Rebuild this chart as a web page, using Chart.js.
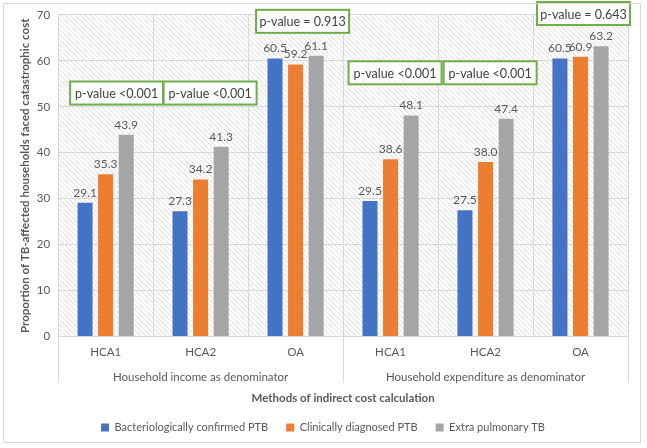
<!DOCTYPE html>
<html>
<head>
<meta charset="utf-8">
<script src="https://cdn.jsdelivr.net/npm/chart.js@4"></script>
<style>
  html,body{margin:0;padding:0;background:#fff;}
  #wrap{position:relative;width:647px;height:448px;}
  #frame{position:absolute;left:3px;top:3px;width:638px;height:440px;border:1px solid #d9d9d9;box-sizing:border-box;pointer-events:none;}
  canvas{position:absolute;left:0;top:0;}
</style>
</head>
<body>
<div id="wrap"><canvas id="c" width="647" height="448"></canvas><div id="frame"></div></div>
<script>
// ---- data ----
const categories = ['HCA1', 'HCA2', 'OA', 'HCA1', 'HCA2', 'OA'];
const groupLabels = ['Household income as denominator', 'Household expenditure as denominator'];
const seriesNames = ['Bacteriologically confirmed PTB', 'Clinically diagnosed PTB', 'Extra pulmonary TB'];
const bacteriologicallyConfirmed = [29.1, 27.3, 60.5, 29.5, 27.5, 60.5];
const clinicallyDiagnosed = [35.3, 34.2, 59.2, 38.6, 38.0, 60.9];
const extraPulmonary = [43.9, 41.3, 61.1, 48.1, 47.4, 63.2];
const pValueTexts = ['p-value <0.001', 'p-value <0.001', 'p-value = 0.913', 'p-value <0.001', 'p-value <0.001', 'p-value = 0.643'];
const yTicks = [0, 10, 20, 30, 40, 50, 60, 70];

const FONT = 'Lato, "Liberation Sans", sans-serif';
const TXT = '#595959';
const colors = ['#4472C4', '#ED7D31', '#A5A5A5'];

// hatch pattern
function makeHatch(){
  const s = 5;
  const c = document.createElement('canvas');
  c.width = s; c.height = s;
  const g = c.getContext('2d');
  g.fillStyle = '#ffffff'; g.fillRect(0,0,s,s);
  g.strokeStyle = '#d6d6d6'; g.lineWidth = 0.8;
  g.beginPath();
  g.moveTo(-1,-1); g.lineTo(s+1,s+1);
  g.moveTo(-1,s-1); g.lineTo(1,s+1);
  g.moveTo(s-1,-1); g.lineTo(s+1,1);
  g.stroke();
  return g.createPattern(c,'repeat');
}

const bgPlugin = {
  id: 'bgHatch',
  beforeDraw(chart){
    const {ctx, chartArea:a} = chart;
    ctx.save();
    ctx.fillStyle = makeHatch();
    ctx.fillRect(a.left, a.top, a.right-a.left, a.bottom-a.top);
    ctx.restore();
  }
};

const labelPlugin = {
  id: 'valueLabels',
  afterDatasetsDraw(chart){
    const ctx = chart.ctx;
    ctx.save();
    ctx.font = '12px ' + FONT;
    ctx.fillStyle = TXT;
    ctx.textAlign = 'center';
    ctx.textBaseline = 'bottom';
    chart.data.datasets.forEach((ds, i) => {
      const meta = chart.getDatasetMeta(i);
      meta.data.forEach((el, j) => {
        ctx.fillText(ds.data[j].toFixed(1), el.x, el.y - 4);
      });
    });
    ctx.restore();
  }
};

// annotation boxes: category index, x offset from category centre (px), y value of box centre
const boxPlacement = [
  {cat:0, dx:11, y:53.0},
  {cat:1, dx:9.5, y:53.0},
  {cat:2, dx:7, y:68.6},
  {cat:3, dx:4.5, y:57.4},
  {cat:4, dx:4.6, y:57.4},
  {cat:5, dx:3, y:70.3}
];
const boxPlugin = {
  id: 'pBoxes',
  afterDraw(chart){
    const {ctx, scales} = chart;
    const xs = scales.x, ys = scales.y;
    const cw = (xs.right - xs.left) / categories.length;
    ctx.save();
    ctx.strokeStyle = '#d9d9d9'; ctx.lineWidth = 1;
    [xs.left, xs.left + cw*3, xs.right].forEach(x => {
      const px = Math.round(x) + 0.5;
      ctx.beginPath(); ctx.moveTo(px, chart.chartArea.bottom); ctx.lineTo(px, chart.chartArea.bottom + 46); ctx.stroke();
    });
    ctx.restore();

    ctx.save();
    ctx.font = '12.5px ' + FONT;
    ctx.textAlign = 'center';
    ctx.textBaseline = 'middle';
    boxPlacement.forEach((b, i) => {
      const cx = xs.getPixelForValue(b.cat) + b.dx;
      const cy = ys.getPixelForValue(b.y);
      const w = 93, h = 23;
      ctx.fillStyle = '#ffffff';
      ctx.fillRect(cx - w/2, cy - h/2, w, h);
      ctx.strokeStyle = '#70AD47'; ctx.lineWidth = 2;
      ctx.strokeRect(cx - w/2, cy - h/2, w, h);
      ctx.fillStyle = '#404040';
      ctx.fillText(pValueTexts[i], cx, cy + 1);
    });
    ctx.restore();
  }
};

new Chart(document.getElementById('c'), {
  type: 'bar',
  data: {
    labels: categories,
    datasets: [
      {label: seriesNames[0], data: bacteriologicallyConfirmed, backgroundColor: colors[0]},
      {label: seriesNames[1], data: clinicallyDiagnosed, backgroundColor: colors[1]},
      {label: seriesNames[2], data: extraPulmonary, backgroundColor: colors[2]}
    ]
  },
  options: {
    responsive: false,
    animation: false,
    devicePixelRatio: 1,
    layout: {padding: {top: 10, right: 19, left: 18, bottom: 5}},
    datasets: {bar: {categoryPercentage: 0.65, barPercentage: 0.73}},
    scales: {
      x: {
        grid: {color: '#d9d9d9', offset: true, drawTicks: false},
        border: {color: '#d9d9d9'},
        ticks: {color: TXT, font: {family: FONT, size: 11.5}, padding: 9}
      },
      x2: {
        type: 'category',
        labels: groupLabels,
        position: 'bottom',
        grid: {display: false, drawTicks: false},
        border: {display: false},
        ticks: {color: TXT, font: {family: FONT, size: 11.5}, padding: 2},
        title: {display: true, text: 'Methods of indirect cost calculation', color: TXT, font: {family: FONT, size: 11.5, weight: 'bold'}, padding: {top: 5, bottom: -1}}
      },
      y: {
        min: 0, max: 70,
        afterBuildTicks(axis){ axis.ticks = yTicks.map(v => ({value: v})); },
        grid: {color: '#d9d9d9', drawTicks: false},
        border: {display: false},
        ticks: {color: TXT, font: {family: FONT, size: 11.5}, padding: 8},
        title: {display: true, text: 'Proportion of TB-affected households faced catastrophic cost', color: TXT, font: {family: FONT, size: 11.5, weight: 'bold'}, padding: {top: 0, bottom: -3}}
      }
    },
    plugins: {
      legend: {
        position: 'bottom',
        labels: {color: TXT, font: {family: FONT, size: 11}, boxWidth: 8, boxHeight: 8, padding: 18}
      },
      tooltip: {enabled: false}
    }
  },
  plugins: [bgPlugin, labelPlugin, boxPlugin]
});
</script>
</body>
</html>
